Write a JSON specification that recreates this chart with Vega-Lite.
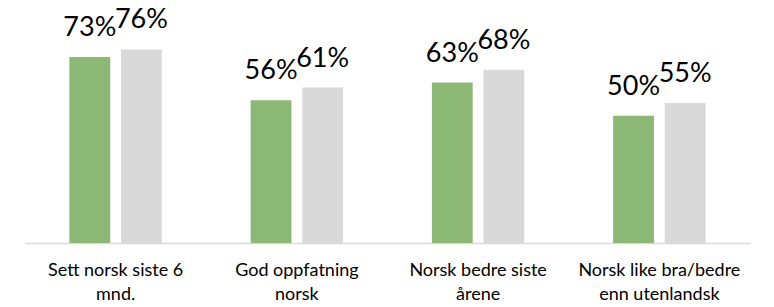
{
  "$schema": "https://vega.github.io/schema/vega-lite/v6.json",
  "width": 725,
  "height": 242,
  "autosize": "none",
  "padding": {"left": 25, "top": 1, "right": 24, "bottom": 64},
  "background": "white",
  "config": {"view": {"stroke": null}, "font": "Lato"},
  "data": {
    "values": [
      {"kategori": "Sett norsk siste 6 mnd.", "serie": "A", "verdi": 0.73, "tekst": "73%"},
      {"kategori": "Sett norsk siste 6 mnd.", "serie": "B", "verdi": 0.76, "tekst": "76%"},
      {"kategori": "God oppfatning norsk", "serie": "A", "verdi": 0.56, "tekst": "56%"},
      {"kategori": "God oppfatning norsk", "serie": "B", "verdi": 0.61, "tekst": "61%"},
      {"kategori": "Norsk bedre siste årene", "serie": "A", "verdi": 0.63, "tekst": "63%"},
      {"kategori": "Norsk bedre siste årene", "serie": "B", "verdi": 0.68, "tekst": "68%"},
      {"kategori": "Norsk like bra/bedre enn utenlandsk", "serie": "A", "verdi": 0.50, "tekst": "50%"},
      {"kategori": "Norsk like bra/bedre enn utenlandsk", "serie": "B", "verdi": 0.55, "tekst": "55%"}
    ]
  },
  "encoding": {
    "x": {
      "field": "kategori",
      "type": "nominal",
      "sort": null,
      "scale": {"paddingInner": 0.49, "paddingOuter": 0.245},
      "axis": {
        "title": null,
        "domainColor": "#d9d9d9",
        "domainWidth": 1.5,
        "ticks": false,
        "labelAngle": 0,
        "labelFont": "Lato",
        "labelFontSize": 18,
        "labelColor": "#000000",
        "labelPadding": 18,
        "labelLineHeight": 24,
        "labelLimit": 220,
        "labelExpr": "datum.value == 'Sett norsk siste 6 mnd.' ? ['Sett norsk siste 6', 'mnd.'] : datum.value == 'God oppfatning norsk' ? ['God oppfatning', 'norsk'] : datum.value == 'Norsk bedre siste årene' ? ['Norsk bedre siste', 'årene'] : ['Norsk like bra/bedre', 'enn utenlandsk']"
      }
    },
    "xOffset": {"field": "serie", "type": "nominal", "scale": {"paddingInner": 0.21, "paddingOuter": 0}},
    "y": {
      "field": "verdi",
      "type": "quantitative",
      "scale": {"domain": [0, 0.95]},
      "axis": null
    }
  },
  "layer": [
    {
      "mark": {"type": "bar"},
      "encoding": {
        "color": {
          "field": "serie",
          "type": "nominal",
          "scale": {"domain": ["A", "B"], "range": ["#8bb874", "#d9d9d9"]},
          "legend": null
        }
      }
    },
    {
      "mark": {"type": "text", "baseline": "alphabetic", "dy": -21, "font": "Lato", "fontSize": 27, "color": "#000000"},
      "encoding": {"text": {"field": "tekst"}}
    }
  ]
}
